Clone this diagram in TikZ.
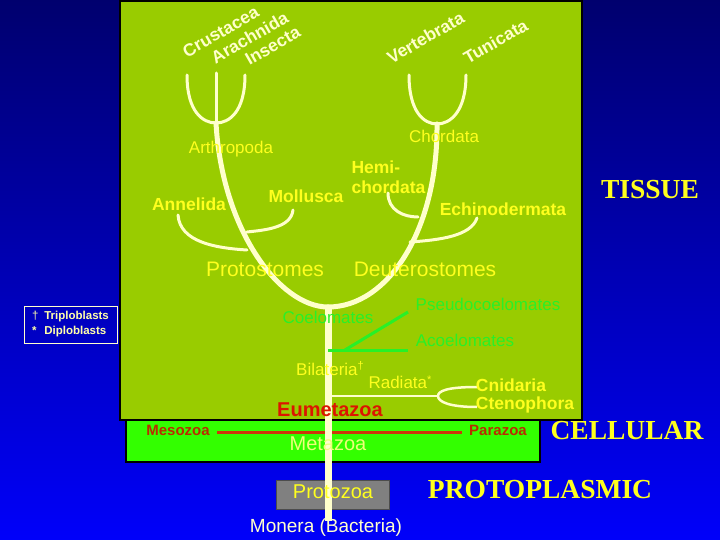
\documentclass[tikz,border=0pt]{standalone}
\usepackage{fontspec}
\setmainfont{Liberation Sans}
\newfontfamily\titlefont{Liberation Serif}
\definecolor{navytop}{RGB}{0,0,110}
\definecolor{bluebottom}{RGB}{0,0,250}
\definecolor{leafgreen}{RGB}{153,204,0}
\definecolor{cellgreen}{RGB}{51,255,0}
\definecolor{cream}{RGB}{255,255,204}
\definecolor{legendyellow}{RGB}{255,255,170}
\definecolor{labelyellow}{RGB}{255,255,30}
\definecolor{paleyellow}{RGB}{238,255,120}
\definecolor{coelgreen}{RGB}{40,240,40}
\definecolor{eured}{RGB}{220,20,0}
\definecolor{zoared}{RGB}{185,45,0}
\definecolor{zoaline}{RGB}{205,55,10}
\begin{document}
\begin{tikzpicture}[x=1pt, y=-1pt, text height=1.5ex, text depth=.25ex]
    \tikzset{%
      taxon/.style={text=labelyellow, font=\fontsize{17}{20}\selectfont},
      btaxon/.style={taxon, font=\fontsize{17.5}{20}\selectfont\bfseries},
      group/.style={text=labelyellow, font=\fontsize{21}{24}\selectfont},
      sub/.style={text=cream, rotate=30, font=\fontsize{17.5}{20}\selectfont\bfseries},
      cavity/.style={text=coelgreen, font=\fontsize{17}{20}\selectfont},
      zoa/.style={text=zoared, font=\fontsize{15}{18}\selectfont\bfseries},
      grade/.style={text=labelyellow, font=\titlefont\fontsize{27.5}{30}\selectfont\bfseries},
      stem/.style={draw=cream, line width=5pt, line cap=round},
      twig/.style={draw=cream, line width=3pt, line cap=round}
      }
    % background and the two level panels
    \shade [top color=navytop, bottom color=bluebottom] (0,0) rectangle (720,540);
    \useasboundingbox (0,0) rectangle (720,540);
    \fill [leafgreen, draw=black, line width=1.5pt] (120,1) rectangle (582,420);
    \fill [cellgreen, draw=black, line width=1.5pt] (126,420) rectangle (540,462);

    \node [fill=gray, draw=black!70, line width=1pt, minimum width=113pt, minimum height=29pt] (protobox) at (333,495) {};

    % tree junctions and tips
    \coordinate (root) at (328,521);
    \coordinate (split) at (328,307);
    \coordinate (arthjun) at (216,123);
    \coordinate (chorjun) at (437,124);
    \coordinate (crustip) at (187,75);
    \coordinate (arachtip) at (216,73);
    \coordinate (insetip) at (245,75);
    \coordinate (vertip) at (409,75);
    \coordinate (tunitip) at (466,75);
    \coordinate (anneltip) at (178,215);
    \coordinate (annjun) at (247,250);
    \coordinate (mollutip) at (293,210);
    \coordinate (moljun) at (247,232);
    \coordinate (hemitip) at (388,193);
    \coordinate (hemijun) at (418,217);
    \coordinate (echintip) at (477,218);
    \coordinate (echjun) at (410,242);
    \coordinate (pseudotip) at (408,312);
    \coordinate (acoeltip) at (408,350);
    \coordinate (coeljun) at (328,350);
    \coordinate (diagfoot) at (345,350);
    \coordinate (radjun) at (328,396);
    \coordinate (radfork) at (438,396);
    \coordinate (cnidtip) at (477,387);
    \coordinate (ctentip) at (477,407);
    \coordinate (mesotip) at (217,432);
    \coordinate (paratip) at (462,432);

    \draw [draw=zoaline, line width=3pt] (mesotip) -- (paratip);

    \draw [stem, line width=7pt, line cap=butt] (root) -- (split);
    \draw [stem] (arthjun) .. controls (222,230) and (280,307) .. (split);
    \draw [stem] (chorjun) .. controls (438,230) and (388,307) .. (split);
    \draw [twig] (crustip) .. controls (187,112) and (203,123) .. (arthjun);
    \draw [twig] (insetip) .. controls (245,112) and (229,123) .. (arthjun);
    \draw [twig] (arachtip) -- (arthjun);
    \draw [twig] (vertip) .. controls (409,112) and (424,124) .. (chorjun);
    \draw [twig] (tunitip) .. controls (466,112) and (450,124) .. (chorjun);
    \draw [twig] (anneltip) .. controls (180,242) and (215,248) .. (annjun);
    \draw [twig] (mollutip) .. controls (291,228) and (265,230) .. (moljun);
    \draw [twig] (hemitip) .. controls (388,210) and (403,217) .. (hemijun);
    \draw [twig] (echintip) .. controls (471,236) and (440,240) .. (echjun);

    \draw [coelgreen, line width=3pt] (coeljun) -- (acoeltip);
    \draw [coelgreen, line width=3pt] (diagfoot) -- (pseudotip);

    \draw [draw=cream, line width=2.5pt] (radjun) -- (radfork);
    \draw [draw=cream, line width=2.5pt] (cnidtip) .. controls (447,387) and (438,391) .. (radfork)
      .. controls (438,402) and (450,407) .. (ctentip);

    % labels
    \node [sub] (crustacea) at (222,34) {Crustacea};
    \node [sub] (arachnida) at (251,40) {Arachnida};
    \node [sub] (insecta) at (274,48) {Insecta};
    \node [sub] (vertebrata) at (427,40) {Vertebrata};
    \node [sub] (tunicata) at (497,44) {Tunicata};

    \node [taxon] (arthropoda) at (231,150) {Arthropoda};
    \node [btaxon] (annelida) at (189,207) {Annelida};
    \node [btaxon] (mollusca) at (306,199) {Mollusca};
    \node [btaxon, align=left, anchor=west, text height=, text depth=] (hemichordata) at (348,177) {Hemi-\\chordata};
    \node [taxon] (chordata) at (444,139) {Chordata};
    \node [btaxon] (echinodermata) at (503,212) {Echinodermata};
    \node [group] (protostomes) at (265,273) {Protostomes};
    \node [group] (deuterostomes) at (425,273) {Deuterostomes};
    \node [grade] (tissue) at (650,195) {TISSUE};

    \node [draw=cream, line width=1pt, align=left, text=legendyellow, minimum width=93pt, minimum height=37pt,
      text height=, text depth=, font=\fontsize{11.5}{15}\selectfont\bfseries] (legend) at (70.5,324.5)
      {\makebox[9pt][l]{\mdseries\dag} Triploblasts\\\makebox[9pt][l]{*} Diploblasts};

    \node [cavity] (coelomates) at (328,320) {Coelomates};
    \node [cavity] (pseudocoelomates) at (488,307) {Pseudocoelomates};
    \node [cavity] (acoelomates) at (465,343) {Acoelomates};
    \node [taxon] (bilateria) at (330,372) {Bilateria\raisebox{.6ex}{\fontsize{11}{12}\selectfont\dag}};
    \node [taxon] (radiata) at (400,385) {Radiata\raisebox{.5ex}{\fontsize{11}{12}\selectfont*}};
    \node [btaxon] (cnidaria) at (511,388) {Cnidaria};
    \node [btaxon] (ctenophora) at (525,406) {Ctenophora};
    \node [text=eured, font=\fontsize{20}{24}\selectfont\bfseries] (eumetazoa) at (330,413) {Eumetazoa};
    \node [zoa] (mesozoa) at (178,432) {Mesozoa};
    \node [text=paleyellow, font=\fontsize{20}{24}\selectfont] (metazoa) at (328,447) {Metazoa};
    \node [zoa] (parazoa) at (498,432) {Parazoa};
    \node [grade] (cellular) at (627,436) {CELLULAR};
    \node [text=labelyellow, font=\fontsize{20}{24}\selectfont] (protozoa) at (protobox) {Protozoa};
    \node [text=cream, font=\fontsize{19}{22}\selectfont] (monera) at (326,529) {Monera (Bacteria)};
    \node [grade] (protoplasmic) at (540,495) {PROTOPLASMIC};
  \end{tikzpicture}
\end{document}
